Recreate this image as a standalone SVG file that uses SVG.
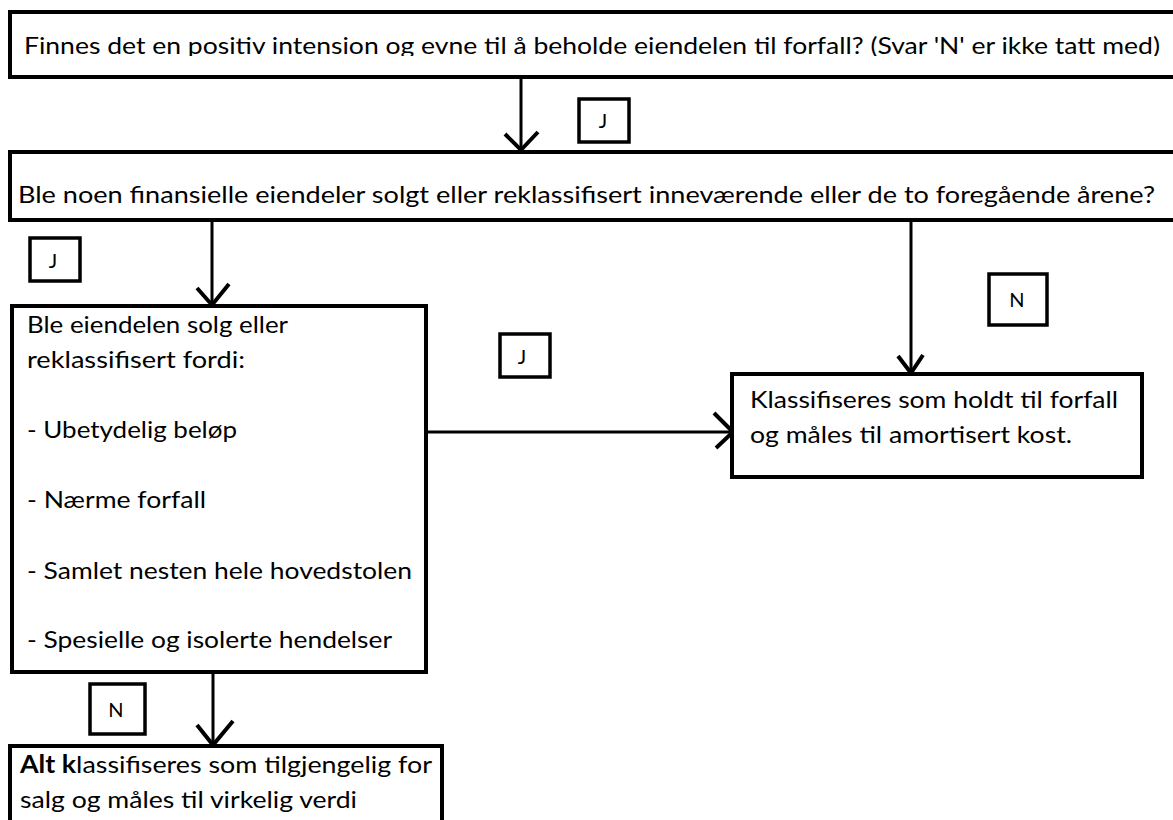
<svg xmlns="http://www.w3.org/2000/svg" width="1173" height="820" viewBox="0 0 1173 820">
<style>
.box{fill:#fff;stroke:#000;stroke-width:4}
.lbl{fill:#fff;stroke:#000;stroke-width:3.5}
.t{font-family:Lato,"Open Sans","Liberation Sans",sans-serif;font-size:24px;fill:#000}
.lt{font-family:Lato,"Open Sans","Liberation Sans",sans-serif;font-size:20px;fill:#000;text-anchor:middle}
.conn{fill:none;stroke:#000;stroke-width:3}
.head{fill:none;stroke:#000;stroke-width:4;stroke-linejoin:miter}
</style>
<defs>
<clipPath id="clipTop"><rect x="0" y="14" width="1173" height="42"/></clipPath>
</defs>
<rect width="1173" height="820" fill="#fff"/>
<g id="connectors">
<path class="conn" d="M521 77 V150"/>
<path class="head" d="M505 134 L521 150 L538 132"/>
<path class="conn" d="M212 220 V305"/>
<path class="head" d="M197 288 L212 305 L229 284"/>
<path class="conn" d="M911 220 V373"/>
<path class="head" d="M898 356 L911 373 L923 355"/>
<path class="conn" d="M426 432 H733"/>
<path class="head" d="M714 413 L733 432 L716 448"/>
<path class="conn" d="M213 672 V746"/>
<path class="head" d="M197 725 L213 745 L233 721"/>
</g>
<g id="node-q1">
<rect class="box" x="10" y="12" width="1180" height="65"/>
<text class="t" x="24" y="54" textLength="1136" lengthAdjust="spacingAndGlyphs" clip-path="url(#clipTop)">Finnes det en positiv intension og evne til å beholde eiendelen til forfall? (Svar 'N' er ikke tatt med)</text>
</g>
<g id="node-q2">
<rect class="box" x="10" y="152" width="1180" height="68"/>
<text class="t" x="18" y="203" textLength="1137" lengthAdjust="spacingAndGlyphs">Ble noen finansielle eiendeler solgt eller reklassifisert inneværende eller de to foregående årene?</text>
</g>
<g id="node-q3">
<rect class="box" x="12" y="306" width="414" height="366"/>
<text class="t" x="27" y="333" textLength="261" lengthAdjust="spacingAndGlyphs">Ble eiendelen solg eller</text>
<text class="t" x="27" y="368" textLength="218" lengthAdjust="spacingAndGlyphs">reklassifisert fordi:</text>
<text class="t" x="27" y="438" textLength="210" lengthAdjust="spacingAndGlyphs">- Ubetydelig beløp</text>
<text class="t" x="27" y="508" textLength="179" lengthAdjust="spacingAndGlyphs">- Nærme forfall</text>
<text class="t" x="27" y="579" textLength="385" lengthAdjust="spacingAndGlyphs">- Samlet nesten hele hovedstolen</text>
<text class="t" x="27" y="648" textLength="365" lengthAdjust="spacingAndGlyphs">- Spesielle og isolerte hendelser</text>
</g>
<g id="node-htm">
<rect class="box" x="732" y="374" width="410" height="103"/>
<text class="t" x="750" y="408" textLength="368" lengthAdjust="spacingAndGlyphs">Klassifiseres som holdt til forfall</text>
<text class="t" x="750" y="443" textLength="322" lengthAdjust="spacingAndGlyphs">og måles til amortisert kost.</text>
</g>
<g id="node-afs">
<rect class="box" x="10" y="746" width="432" height="100"/>
<text class="t" x="20" y="773" textLength="412" lengthAdjust="spacingAndGlyphs"><tspan font-weight="bold">Alt k</tspan>lassifiseres som tilgjengelig for</text>
<text class="t" x="20" y="808" textLength="337" lengthAdjust="spacingAndGlyphs">salg og måles til virkelig verdi</text>
</g>
<g id="label-j1">
<rect class="lbl" x="579" y="99" width="50" height="43"/>
<text class="lt" x="603" y="128">J</text>
</g>
<g id="label-j2">
<rect class="lbl" x="30" y="238" width="50" height="43"/>
<text class="lt" x="53" y="268">J</text>
</g>
<g id="label-n1">
<rect class="lbl" x="989" y="274" width="58" height="51"/>
<text class="lt" x="1017" y="307">N</text>
</g>
<g id="label-j3">
<rect class="lbl" x="500" y="334" width="50" height="43"/>
<text class="lt" x="522" y="364">J</text>
</g>
<g id="label-n2">
<rect class="lbl" x="90" y="684" width="55" height="50"/>
<text class="lt" x="116" y="717">N</text>
</g>
</svg>
